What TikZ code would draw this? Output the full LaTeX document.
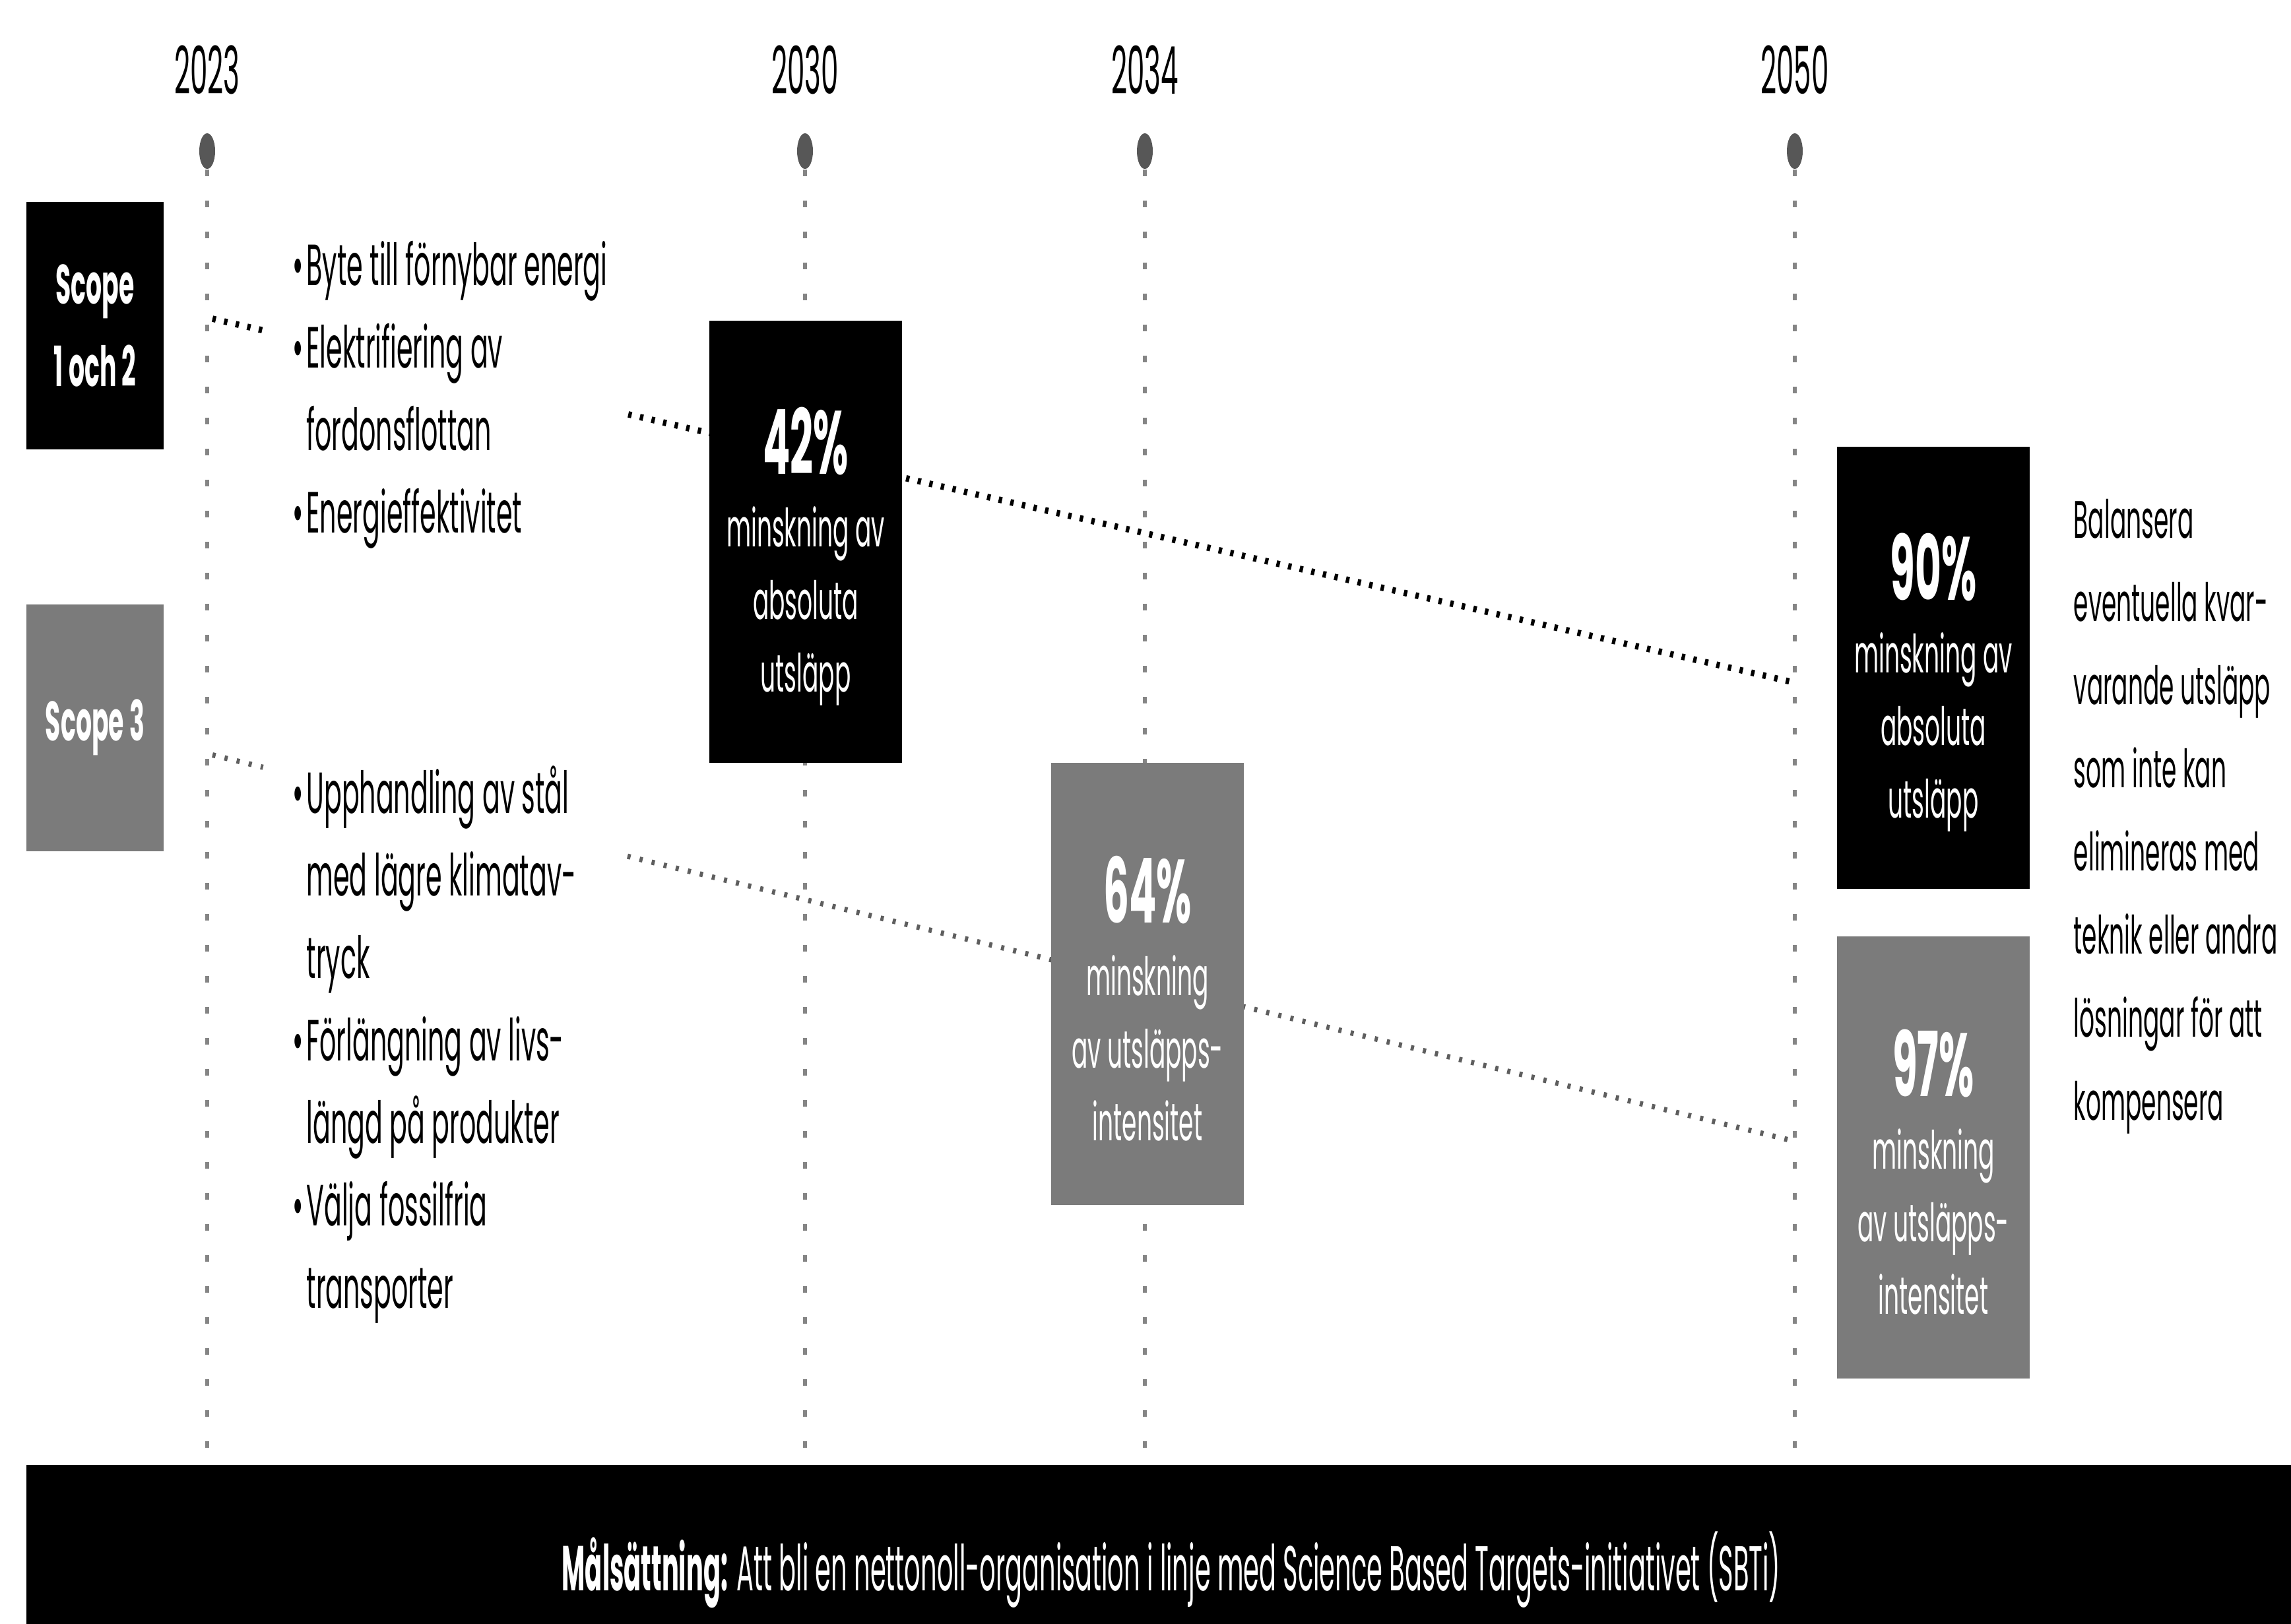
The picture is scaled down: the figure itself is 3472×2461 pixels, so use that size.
\documentclass[tikz,border=0pt]{standalone}
\usepackage{fontspec}
\setmainfont{Poppins}[FakeStretch=0.45]
\newfontfamily\yearfont{Poppins}[FakeStretch=0.42]
\newfontfamily\bandfont{Poppins}[FakeStretch=0.40]
\usetikzlibrary{shapes.geometric,calc}
\definecolor{vgrey}{HTML}{858585}
\definecolor{markgrey}{HTML}{575757}
\definecolor{sthreegrey}{HTML}{5E5E5E}
\definecolor{boxgrey}{HTML}{7B7B7B}
\newcommand\bignum[1]{{\fontsize{34}{34}\selectfont\bfseries\rule{0pt}{36.5pt}#1}}
\newcommand\bul{\makebox[5.2pt][l]{•}}
\newcommand\hangbox{\hspace*{5.2pt}}
\begin{document}
\begin{tikzpicture}[x=0.25pt,y=-0.25pt,
  vline/.style={draw=vgrey, line width=1.3pt, dash pattern=on 2.5pt off 9.25pt},
  markdot/.style={ellipse, fill=markgrey, minimum width=6pt, minimum height=13.5pt, inner sep=0pt},
  sonelink/.style={draw=black, line width=2.4pt, dash pattern=on 1.3pt off 3.2pt},
  sthreelink/.style={draw=sthreegrey, line width=2pt, dash pattern=on 1.2pt off 3.5pt},
  yearlbl/.style={font=\yearfont\fontsize{25}{25}\selectfont, inner sep=0pt, anchor=base},
  bullets/.style={inner sep=0pt, align=left, font=\fontsize{22}{31.25}\selectfont, anchor=base west},
  scopebox/.style={text=white, minimum width=52pt, minimum height=93.5pt, inner sep=0pt, align=center, font=\fontsize{21}{31.25}\selectfont\bfseries},
  pctbox/.style={text=white, minimum width=73pt, minimum height=167.5pt, inner sep=0pt, align=center, font=\fontsize{20}{27.5}\selectfont},
  righttext/.style={align=left, inner sep=0pt, anchor=base west, font=\fontsize{20}{31.5}\selectfont},
  bandbox/.style={fill=black, minimum width=858pt, minimum height=60.25pt, inner sep=0pt},
  bandtext/.style={text=white, inner sep=0pt, anchor=base, font=\bandfont\fontsize{24}{24}\selectfont}
]
\useasboundingbox (0,0) rectangle (3472,2461);

% timeline markers and vertical dotted lines
\foreach \yr/\xx in {2023/314, 2030/1220, 2034/1735, 2050/2720}{
  \node[yearlbl] (y\yr) at (\xx,143) {\yr};
  \coordinate (e\yr) at (\xx,2228);
  \node[markdot] (m\yr) at (\xx,229) {};
  \draw[vline] (m\yr.south) -- (e\yr);
}

% connectors (hidden where the bullet lists stand)
\coordinate (sonea) at (322,483);
\coordinate (soneb) at (2718,1034);
\coordinate (sthreea) at (322,1144);
\coordinate (sthreeb) at (2718,1729);
\draw[sonelink] (sonea) -- ($(sonea)!0.0326!(soneb)$);
\draw[sonelink] ($(sonea)!0.263!(soneb)$) -- (soneb);
\draw[sthreelink] (sthreea) -- ($(sthreea)!0.032!(sthreeb)$);
\draw[sthreelink] ($(sthreea)!0.2625!(sthreeb)$) -- (sthreeb);

% scope boxes
\node[scopebox, fill=black] (sc12) at (144,493.5) {Scope\\1 och 2};
\node[scopebox, fill=boxgrey] (sc3) at (144,1102.5) {Scope 3};

% bullet lists
\node[bullets] (lone) at (443,807) {\bul Byte till förnybar energi\\\bul Elektrifiering av\\\hangbox fordonsflottan\\\bul Energieffektivitet};
\node[bullets] (lthree) at (443,1982) {\bul Upphandling av stål\\\hangbox med lägre klimatav-\\\hangbox tryck\\\bul Förlängning av livs-\\\hangbox längd på produkter\\\bul Välja fossilfria\\\hangbox transporter};

% percentage boxes
\node[pctbox, fill=black] (p42) at (1221,821) {\bignum{42\%}\\minskning av\\absoluta\\utsläpp};
\node[pctbox, fill=boxgrey] (p64) at (1739,1491) {\bignum{64\%}\\minskning\\av utsläpps-\\intensitet};
\node[pctbox, fill=black] (p90) at (2930,1011.5) {\bignum{90\%}\\minskning av\\absoluta\\utsläpp};
\node[pctbox, fill=boxgrey] (p97) at (2930,1754) {\bignum{97\%}\\minskning\\av utsläpps-\\intensitet};

% right text
\node[righttext] (bal) at (3142,1697) {Balansera\\eventuella kvar-\\varande utsläpp\\som inte kan\\elimineras med\\teknik eller andra\\lösningar för att\\kompensera};

% bottom band
\node[bandbox] (band) at (1756,2340.5) {};
\node[bandtext] (goal) at (1775,2410) {\textbf{Målsättning:} Att bli en nettonoll-organisation i linje med Science Based Targets-initiativet (SBTi)};
\end{tikzpicture}
\end{document}
